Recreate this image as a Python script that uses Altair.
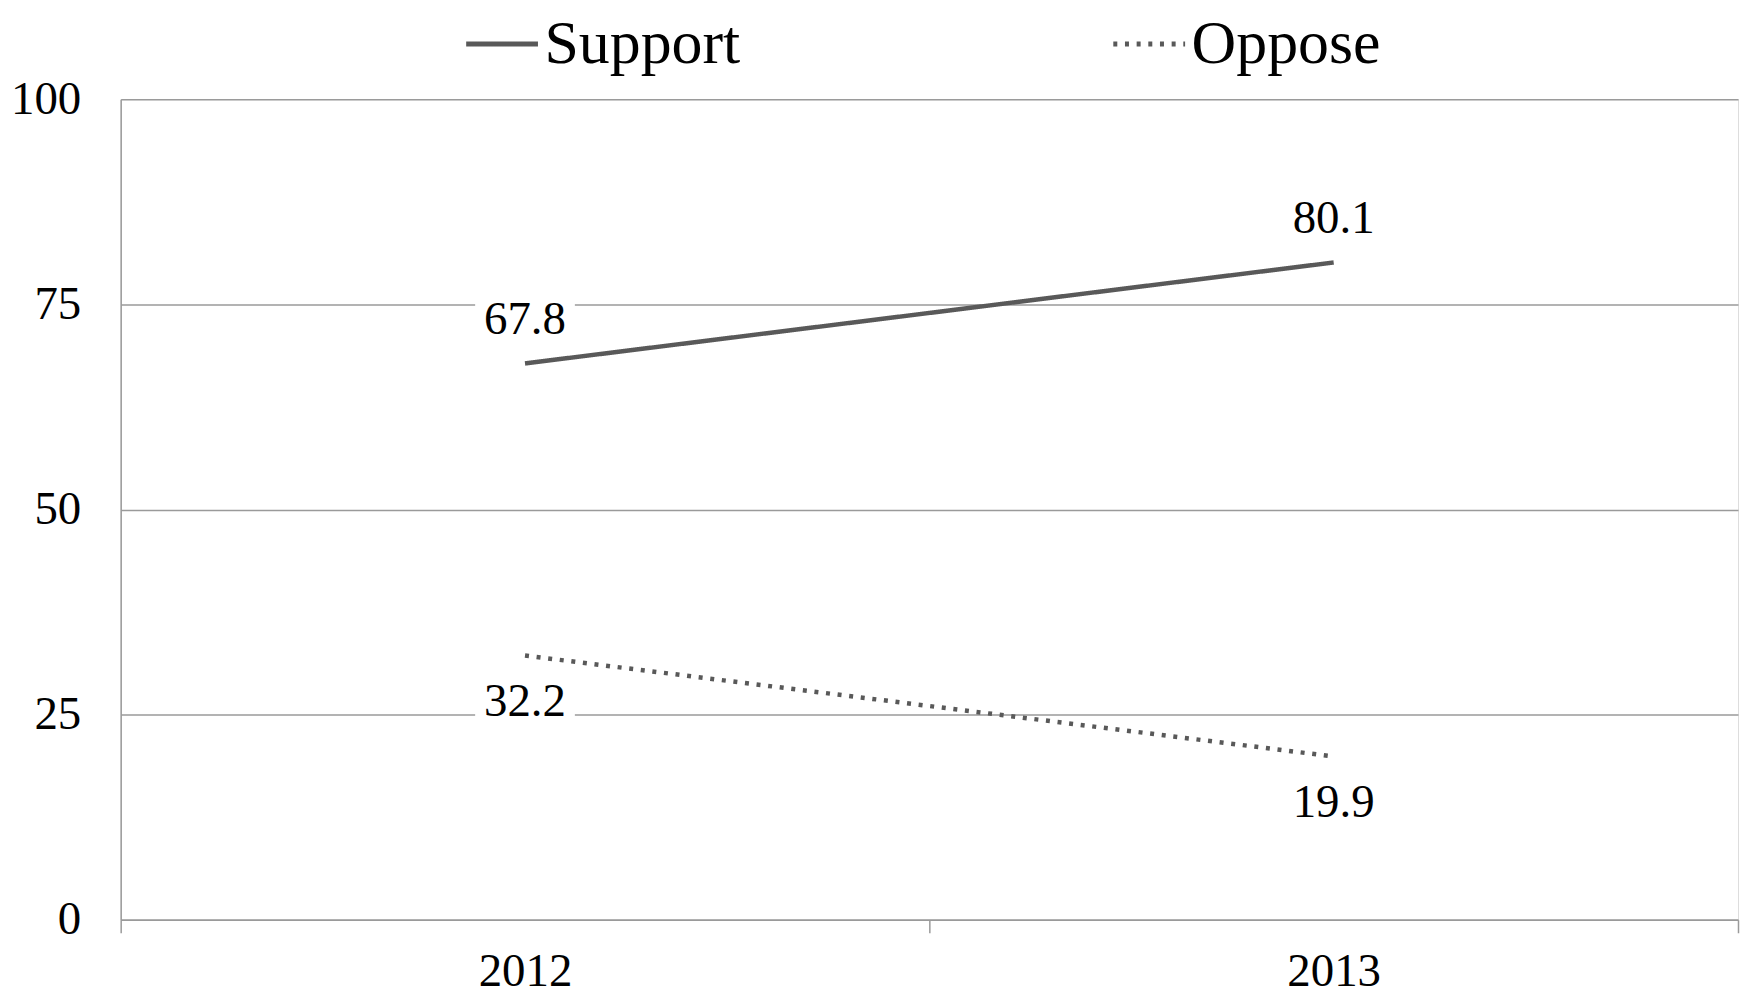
import altair as alt
import pandas as pd

years = ["2012", "2013"]
series = ["Support", "Oppose"]
support = [67.8, 80.1]
oppose = [32.2, 19.9]
y_ticks = [0, 25, 50, 75, 100]

rows = []
for name, vals in zip(series, [support, oppose]):
    for yr, v in zip(years, vals):
        rows.append({"year": yr, "series": name, "value": v})
df = pd.DataFrame(rows)

FONT = "Liberation Serif"
GRAY = "#9a9a9a"
LINE = "#595959"

x_enc = alt.X(
    "year:N",
    sort=years,
    scale=alt.Scale(type="band", paddingInner=0, paddingOuter=0),
    axis=alt.Axis(
        title=None, labelAngle=0, tickBand="extent", tickSize=13,
        tickColor=GRAY, tickWidth=1.5, domainColor=GRAY, domainWidth=1.5,
        labelFont=FONT, labelFontSize=47, labelColor="black",
        labelPadding=16, grid=False,
    ),
)
y_enc = alt.Y(
    "value:Q",
    scale=alt.Scale(domain=[0, 100], nice=False),
    axis=alt.Axis(
        title=None, values=y_ticks, ticks=False, domainColor=GRAY,
        domainWidth=1.5, gridColor=GRAY, gridWidth=1.5, grid=True,
        labelFont=FONT, labelFontSize=47, labelColor="black",
        labelPadding=40,
    ),
)

base = alt.Chart(df).encode(x=x_enc, y=y_enc)

lines = base.mark_line(color=LINE, strokeWidth=4.5).encode(
    strokeDash=alt.StrokeDash(
        "series:N",
        scale=alt.Scale(domain=series, range=[[1, 0], [4, 7.7]]),
        legend=alt.Legend(
            title=None, orient="none", legendX=344, legendY=-94,
            direction="horizontal", symbolType="stroke", symbolSize=5184,
            symbolStrokeWidth=5, symbolStrokeColor=LINE,
            labelFont=FONT, labelFontSize=62, labelColor="black",
            labelOffset=4, columnPadding=363, labelLimit=0,
        ),
    )
)

sup = base.transform_filter(alt.datum.series == "Support")
opp = base.transform_filter(alt.datum.series == "Oppose")

bg_sup = sup.mark_point(
    shape="M-1,-1.33L1,-1.33L1,-0.41L-1,-0.41Z", filled=True,
    fill="white", opacity=1, size=10000, strokeWidth=0,
)
bg_opp = opp.mark_point(
    shape="M-1,0.48L1,0.48L1,1.4L-1,1.4Z", filled=True,
    fill="white", opacity=1, size=10000, strokeWidth=0,
)

txt_sup = sup.mark_text(font=FONT, fontSize=47, dy=-43.5, color="black").encode(
    text=alt.Text("value:Q", format=".1f")
)
txt_opp = opp.mark_text(font=FONT, fontSize=47, dy=47, color="black").encode(
    text=alt.Text("value:Q", format=".1f")
)

chart = (
    alt.layer(bg_sup, bg_opp, lines, txt_sup, txt_opp)
    .properties(
        width=1622, height=823,
        autosize=alt.AutoSizeParams(type="none"),
        padding={"left": 113, "top": 90, "right": 2, "bottom": 78},
    )
    .configure_view(stroke="transparent")
    .configure(background="white")
)

chart.save("out.html", embed_options={"renderer": "svg", "actions": False})
